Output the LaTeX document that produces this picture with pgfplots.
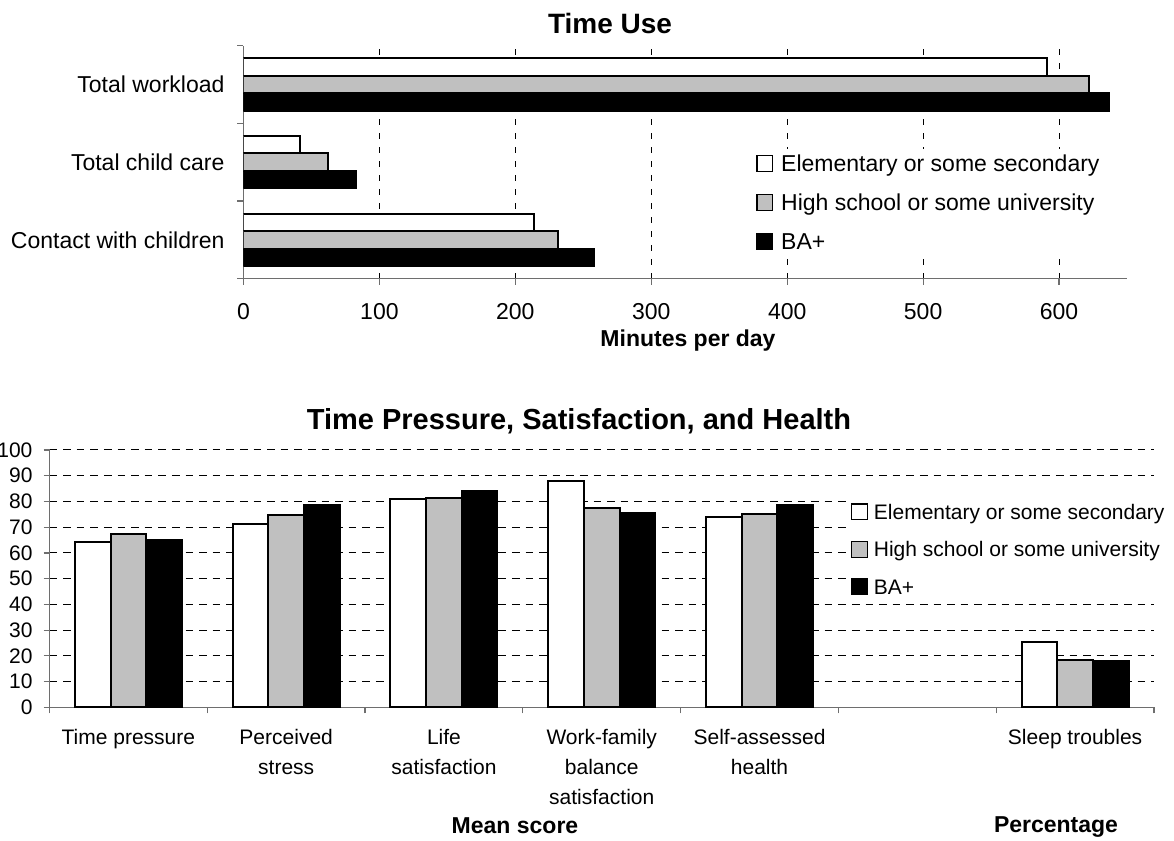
\documentclass[border=0pt]{standalone}
\usepackage{fontspec}
\setmainfont{Liberation Sans}
\usepackage{pgfplots}
\pgfplotsset{compat=1.18}
\definecolor{exgray}{RGB}{192,192,192}
\definecolor{axgray}{RGB}{110,110,110}
\begin{document}
\begin{tikzpicture}
\useasboundingbox (0pt,0pt) rectangle (587pt,420.5pt);
% ---------------- Top chart: Time Use ----------------
\begin{axis}[
  at={(121.75pt,281.15pt)}, anchor=south west,
  scale only axis, width=441.75pt, height=116.55pt,
  xbar, bar width=0.226,
  xmin=0, xmax=650, ymin=-0.5, ymax=2.5,
  axis lines=left, axis line style={-, axgray, line width=0.6pt},
  xtick={0,100,...,600}, minor xtick={0,100,...,600},
  ytick={0,1,2}, minor ytick={-0.5,0.5,1.5,2.5},
  yticklabels={Contact with children, Total child care, Total workload},
  major tick length=0pt, minor tick length=3pt, tick align=outside,
  tick style={axgray, line width=0.6pt},
  xmajorgrids, grid style={black, line width=0.5pt, dash pattern=on 3pt off 4pt},
  ticklabel style={font=\fontsize{11.5}{13.5}\selectfont},
  xticklabel style={yshift=-9pt},
  yticklabel style={xshift=-6pt},
  /pgf/number format/assume math mode=true,
  legend cell align=left,
  legend style={at={(0.5801,0.5594)}, anchor=north west, draw=none, fill=white,
    inner sep=0pt, row sep=4.5pt, font=\fontsize{11.5}{13.5}\selectfont,
    /tikz/every odd column/.append style={column sep=2pt},
    /tikz/every even column/.append style={column sep=0pt}},
  legend image code/.code={\draw[#1, line width=0.6pt] (0pt,-3.9pt) rectangle (7.8pt,3.9pt);},
]
\addplot[draw=black, fill=white, line width=1pt, bar shift=0.226] coordinates {(591,2) (41.5,1) (214,0)};
\addplot[draw=black, fill=exgray, line width=1pt, bar shift=0] coordinates {(622,2) (62,1) (231.5,0)};
\addplot[draw=black, fill=black, line width=1pt, bar shift=-0.226] coordinates {(637,2) (83,1) (258,0)};
\legend{\strut Elementary or some secondary, \strut High school or some university, \strut BA+}
\end{axis}
% ---------------- Bottom chart ----------------
\begin{axis}[
  at={(24.75pt,66.85pt)}, anchor=south west,
  scale only axis, width=552.25pt, height=128.65pt,
  ybar, bar width=0.226,
  xmin=-0.5, xmax=6.5, ymin=0, ymax=100,
  axis lines=left, axis line style={-, axgray, line width=0.6pt},
  xtick={0,1,2,3,4,6}, minor xtick={-0.5,0.5,...,6.5},
  xticklabels={Time pressure, Perceived\\stress, Life\\satisfaction, Work-family\\balance\\satisfaction, Self-assessed\\health, Sleep troubles},
  ytick={0,10,...,100}, minor ytick={0,10,...,100},
  major tick length=0pt, minor tick length=3pt, tick align=outside,
  tick style={axgray, line width=0.6pt},
  ymajorgrids, grid style={black, line width=0.5pt, dash pattern=on 3.8pt off 3pt},
  xticklabel style={font=\fontsize{10.5}{15}\selectfont, align=center, yshift=-7.5pt},
  yticklabel style={font=\fontsize{10.5}{12.5}\selectfont, xshift=-5pt},
  /pgf/number format/assume math mode=true,
  legend cell align=left,
  legend style={at={(0.7254,0.8166)}, anchor=north west, draw=none, fill=white,
    inner sep=0pt, row sep=4.5pt, font=\fontsize{10.5}{12.5}\selectfont,
    /tikz/every odd column/.append style={column sep=1pt},
    /tikz/every even column/.append style={column sep=0pt}},
  legend image code/.code={\draw[#1, line width=0.6pt] (0pt,-3.9pt) rectangle (7.8pt,3.9pt);},
]
\addplot[draw=black, fill=white, line width=1pt, bar shift=-0.226] coordinates {(0,64.3) (1,71.4) (2,80.9) (3,87.9) (4,74.0) (6,25.5)};
\addplot[draw=black, fill=exgray, line width=1pt, bar shift=0] coordinates {(0,67.5) (1,74.6) (2,81.5) (3,77.6) (4,75.3) (6,18.4)};
\addplot[draw=black, fill=black, line width=1pt, bar shift=0.226] coordinates {(0,65.2) (1,78.5) (2,84.0) (3,75.5) (4,78.5) (6,17.8)};
\legend{\strut Elementary or some secondary, \strut High school or some university, \strut BA+}
\end{axis}
% ---------------- Titles and labels ----------------
\node[anchor=base, font=\bfseries\fontsize{14}{16}\selectfont] at (305pt,403.85pt) {Time Use};
\node[anchor=base, font=\bfseries\fontsize{11.5}{14}\selectfont] at (344pt,247.15pt) {Minutes per day};
\node[anchor=base, font=\bfseries\fontsize{14.5}{17}\selectfont] at (289.5pt,205.85pt) {Time Pressure, Satisfaction, and Health};
\node[anchor=base, font=\bfseries\fontsize{11.5}{14}\selectfont] at (257.5pt,3.85pt) {Mean score};
\node[anchor=base, font=\bfseries\fontsize{11.5}{14}\selectfont] at (528pt,4pt) {Percentage};
\end{tikzpicture}
\end{document}
